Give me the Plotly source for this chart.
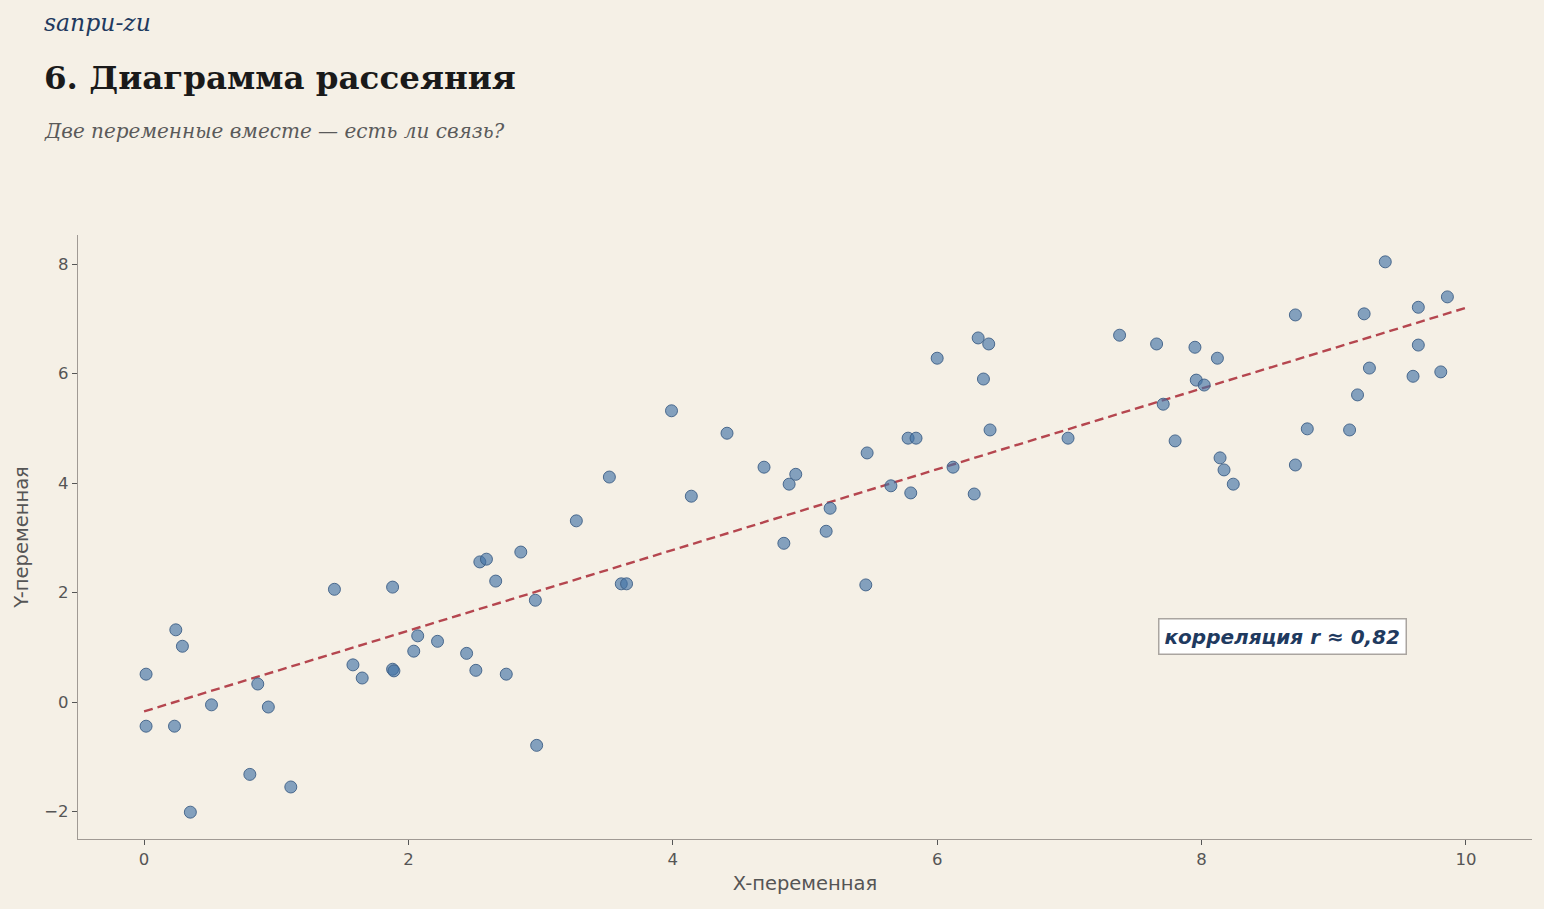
import numpy as np
import plotly.graph_objects as go

x_vals = [0.015, 0.015, 0.24, 0.29, 0.23, 0.35, 0.51, 0.80, 0.86, 0.94,
          1.11, 1.44, 1.58, 1.65, 1.88, 1.88, 1.89, 2.04, 2.07, 2.22,
          2.44, 2.51, 2.54, 2.59, 2.66, 2.74, 2.85, 2.96, 2.97, 3.27,
          3.52, 3.61, 3.65, 3.99, 4.14, 4.41, 4.69, 4.84, 4.88, 4.93,
          5.16, 5.19, 5.46, 5.47, 5.65, 5.78, 5.80, 5.84, 6.00, 6.12,
          6.28, 6.31, 6.35, 6.39, 6.40, 6.99, 7.38, 7.66, 7.71, 7.80,
          7.95, 7.96, 8.02, 8.12, 8.14, 8.17, 8.24, 8.71, 8.71, 8.80,
          9.12, 9.18, 9.23, 9.27, 9.39, 9.60, 9.64, 9.64, 9.81, 9.86]
y_vals = [0.51, -0.44, 1.32, 1.02, -0.44, -2.01, -0.05, -1.32, 0.33, -0.09,
          -1.55, 2.06, 0.68, 0.44, 2.10, 0.60, 0.57, 0.93, 1.21, 1.11,
          0.89, 0.58, 2.56, 2.61, 2.21, 0.51, 2.74, 1.86, -0.79, 3.31,
          4.11, 2.16, 2.16, 5.32, 3.76, 4.91, 4.29, 2.90, 3.98, 4.16,
          3.12, 3.54, 2.14, 4.55, 3.95, 4.82, 3.82, 4.82, 6.28, 4.29,
          3.80, 6.65, 5.90, 6.54, 4.97, 4.82, 6.70, 6.54, 5.44, 4.77,
          6.48, 5.88, 5.79, 6.28, 4.46, 4.24, 3.98, 7.07, 4.33, 4.99,
          4.97, 5.61, 7.09, 6.10, 8.04, 5.95, 6.52, 7.21, 6.03, 7.40]

# trend line endpoints
trend_x = [0, 10]
trend_y = [-0.17, 7.20]

x_ticks = [0, 2, 4, 6, 8, 10]
y_ticks = [-2, 0, 2, 4, 6, 8]

bg = "#F5F0E6"

fig = go.Figure()
fig.add_trace(go.Scatter(
    x=trend_x, y=trend_y, mode="lines",
    line=dict(color="#B5464F", width=2.4, dash="9px,5px"),
    hoverinfo="skip", showlegend=False))
fig.add_trace(go.Scatter(
    x=x_vals, y=y_vals, mode="markers",
    marker=dict(size=12, color="rgba(66,114,166,0.64)",
                line=dict(color="#3D5F86", width=0.9)),
    showlegend=False))

axis_common = dict(
    showgrid=False, zeroline=False, showline=True, linecolor="#A09A94", linewidth=1.3,
    ticks="outside", ticklen=5, tickcolor="#555555", tickwidth=1,
    tickfont=dict(family="DejaVu Sans", size=16.5, color="#555555"),
)
fig.update_xaxes(range=[-0.5, 10.5], tickvals=x_ticks,
                 title=dict(text="X-переменная", font=dict(family="DejaVu Sans", size=19.5, color="#555555"), standoff=8),
                 **axis_common)
fig.update_yaxes(range=[-2.5, 8.53], tickvals=y_ticks,
                 title=dict(text="Y-переменная", font=dict(family="DejaVu Sans", size=19.5, color="#555555"), standoff=10),
                 **axis_common)

fig.update_layout(
    width=1544, height=909,
    paper_bgcolor=bg, plot_bgcolor=bg,
    margin=dict(l=78, r=12, t=235, b=70),
    annotations=[
        dict(text="sanpu-zu", xref="paper", yref="paper", x=-0.0248, y=1.351,
             xanchor="left", yanchor="middle", showarrow=False,
             font=dict(family="DejaVu Serif", size=23.5, color="#1F3A5F", style="italic")),
        dict(text="<b>6. Диаграмма рассеяния</b>", xref="paper", yref="paper", x=-0.0248, y=1.26,
             xanchor="left", yanchor="middle", showarrow=False,
             font=dict(family="DejaVu Serif", size=32.5, color="#1A1A1A")),
        dict(text="Две переменные вместе — есть ли связь?", xref="paper", yref="paper", x=-0.0248, y=1.172,
             xanchor="left", yanchor="middle", showarrow=False,
             font=dict(family="DejaVu Serif", size=20, color="#5A5A5A", style="italic")),
        dict(text="<b><i>корреляция r ≈ 0,82</i></b>", xref="x", yref="y", x=8.61, y=1.19,
             xanchor="center", yanchor="middle", showarrow=False,
             font=dict(family="DejaVu Sans", size=20, color="#1F3A5F"),
             bgcolor="#FFFFFF", bordercolor="#AAA5A0", borderwidth=1.5, borderpad=5),
    ],
)

fig.write_html("out.html")
